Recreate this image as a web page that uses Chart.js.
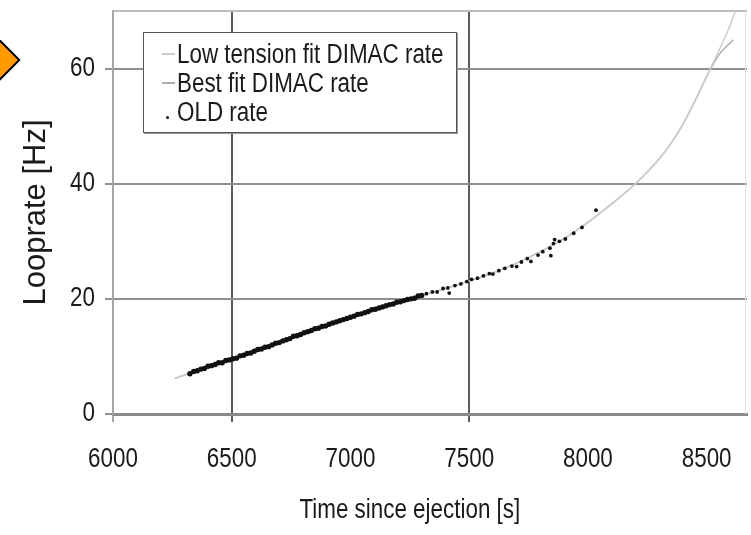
<!DOCTYPE html>
<html>
<head>
<meta charset="utf-8">
<title>Looprate</title>
<script src="https://cdn.jsdelivr.net/npm/chart.js@4.4.1/dist/chart.umd.min.js"></script>
<style>
  body { margin: 0; background: #fff; }
  #wrap { position: relative; width: 751px; height: 535px; overflow: hidden; }
  #marker {
    position: absolute; left: -18px; top: 44px; width: 32px; height: 32px;
    box-sizing: border-box; background: #ff9a00; border: 2px solid #000;
    transform: rotate(45deg);
  }
  #legend {
    position: absolute; left: 143px; top: 32px; width: 314px; height: 101px;
    box-sizing: border-box; background: #fff; border: 1px solid #555;
    box-shadow: 1px 1px 0 #999; padding: 7px 0 0 33px;
    font: 27px "Liberation Sans", Arial, sans-serif;
    line-height: 29px; color: #1a1a1a;
  }
  #legend .row { position: relative; white-space: nowrap; }
  #legend .name { display: inline-block; transform: scaleX(0.83); transform-origin: left center; }
  #legend .line { position: absolute; left: -15px; top: 13px; width: 13px; height: 0; border-top: 2px solid; }
  #legend .dot { position: absolute; left: -11px; top: 18px; width: 3px; height: 3px; border-radius: 50%; background: #111; }
</style>
</head>
<body>
<div id="wrap">
  <canvas id="chart" width="751" height="535"></canvas>
  <div id="marker"></div>
  <div id="legend"></div>
</div>
<script>
// axis ticks
const timeTicks = [6000, 6500, 7000, 7500, 8000, 8500];
const rateTicks = [0, 20, 40, 60];
const gridTimes = [6500, 7500];

const seriesNames = ["Low tension fit DIMAC rate", "Best fit DIMAC rate", "OLD rate"];
const xTitle = "Time since ejection [s]";
const yTitle = "Looprate [Hz]";

// fitted loop rate curves
const lowTensionTime = [6260, 6400, 6500, 6600, 6700, 6800, 6900, 7000, 7100, 7200, 7300, 7400, 7500,
  7600, 7700, 7800, 7900, 8000, 8100, 8200, 8300, 8350, 8400, 8450, 8500, 8550, 8590, 8622];
const lowTensionRate = [6.2, 8.2, 9.5, 11.0, 12.5, 14.0, 15.4, 16.8, 18.1, 19.4, 20.6, 21.8, 23.1,
  24.5, 26.2, 28.2, 30.5, 33.3, 36.5, 40.0, 44.3, 47.0, 50.3, 54.3, 58.6, 63.0, 66.6, 70.0];

const bestFitTime = [6260, 6400, 6500, 6600, 6700, 6800, 6900, 7000, 7100, 7200, 7300, 7400, 7500,
  7600, 7700, 7800, 7900, 8000, 8100, 8200, 8300, 8350, 8400, 8450, 8500, 8550, 8613];
const bestFitRate = [6.2, 8.2, 9.5, 11.0, 12.5, 14.0, 15.4, 16.8, 18.1, 19.4, 20.6, 21.8, 23.1,
  24.5, 26.2, 28.2, 30.5, 33.3, 36.5, 40.0, 44.3, 47.0, 50.3, 54.3, 58.6, 62.3, 65.0];

// measured (old) loop rate
const oldTime = [6324, 6340, 6355, 6370, 6385, 6400, 6415, 6430, 6445, 6460, 6475, 6490, 6505, 6520,
  6535, 6550, 6565, 6580, 6595, 6610, 6625, 6640, 6655, 6670, 6685, 6700, 6715, 6730, 6745, 6760,
  6775, 6790, 6805, 6820, 6835, 6850, 6865, 6880, 6895, 6910, 6925, 6940, 6955, 6970, 6985, 7000,
  7015, 7030, 7045, 7060, 7075, 7090, 7105, 7120, 7135, 7150, 7165, 7180, 7195, 7210, 7225, 7240,
  7255, 7270, 7285, 7300, 7320, 7345, 7365, 7390, 7410, 7416, 7440, 7465, 7490, 7510, 7535, 7560,
  7585, 7600, 7625, 7650, 7680, 7700, 7720, 7745, 7760, 7790, 7810, 7840, 7844, 7855, 7860, 7880,
  7905, 7940, 7975, 8034];
const oldRate = [7.0, 7.4, 7.5, 7.8, 7.9, 8.3, 8.4, 8.6, 8.9, 8.9, 9.3, 9.4, 9.6, 9.7,
  10.1, 10.2, 10.5, 10.6, 10.9, 11.2, 11.3, 11.6, 11.7, 12.0, 12.3, 12.4, 12.7, 12.9, 13.1, 13.5,
  13.6, 13.8, 14.1, 14.3, 14.5, 14.8, 14.9, 15.2, 15.3, 15.6, 15.8, 16.0, 16.2, 16.4, 16.6, 16.8,
  17.0, 17.3, 17.4, 17.6, 17.8, 18.1, 18.2, 18.4, 18.6, 18.8, 19.0, 19.1, 19.4, 19.5, 19.7, 19.9,
  20.0, 20.1, 20.5, 20.6, 20.9, 21.2, 21.2, 21.8, 21.9, 21.0, 22.3, 22.6, 23.0, 23.4, 23.6, 24.0,
  24.4, 24.3, 24.9, 25.3, 25.7, 25.6, 26.4, 27.0, 26.5, 27.6, 28.2, 28.8, 27.5, 29.6, 30.3, 30.0,
  30.4, 31.4, 32.4, 35.4];

const lineColors = ["#cdcdcd", "#acacac"];
const labelFont = '27px "Liberation Sans", Arial, sans-serif';
const labelColor = "#1a1a1a";
const narrow = 0.83; // condensed lettering

const toPoints = (xs, ys) => xs.map((x, i) => ({ x: x, y: ys[i] }));

function drawNarrow(ctx, text, x, y, align) {
  ctx.save();
  ctx.translate(x, y);
  ctx.scale(narrow, 1);
  ctx.textAlign = align;
  ctx.fillText(text, 0, 0);
  ctx.restore();
}

// top and right edges of the plot area
const framePlugin = {
  id: "frame",
  beforeDatasetsDraw(chart) {
    const { ctx, chartArea: a } = chart;
    ctx.save();
    ctx.lineWidth = 2;
    ctx.strokeStyle = "#bdbdbd";
    ctx.beginPath();
    ctx.moveTo(a.left, a.top);
    ctx.lineTo(a.right, a.top);
    ctx.stroke();
    ctx.lineWidth = 1;
    ctx.strokeStyle = "#e2e2e2";
    ctx.beginPath();
    ctx.moveTo(a.right - 1.5, a.top);
    ctx.lineTo(a.right - 1.5, a.bottom);
    ctx.stroke();
    ctx.restore();
  },
};

// condensed tick labels and x title (title centred under the labelled range)
const labelsPlugin = {
  id: "narrowLabels",
  afterDraw(chart) {
    const { ctx } = chart;
    const sx = chart.scales.x;
    const sy = chart.scales.y;
    ctx.save();
    ctx.font = labelFont;
    ctx.fillStyle = labelColor;
    ctx.textBaseline = "middle";
    timeTicks.forEach((v) => drawNarrow(ctx, String(v), sx.getPixelForValue(v), sx.top + 46, "center"));
    rateTicks.forEach((v) => drawNarrow(ctx, String(v), sy.right - 18, sy.getPixelForValue(v), "right"));
    const mid = (sx.getPixelForValue(timeTicks[0]) + sx.getPixelForValue(timeTicks[timeTicks.length - 1])) / 2;
    drawNarrow(ctx, xTitle, mid, sx.bottom - 24, "center");
    ctx.restore();
  },
};

new Chart(document.getElementById("chart"), {
  type: "scatter",
  data: {
    datasets: [
      {
        label: seriesNames[0],
        data: toPoints(lowTensionTime, lowTensionRate),
        showLine: true,
        borderColor: lineColors[0],
        borderWidth: 1.5,
        pointRadius: 0,
        cubicInterpolationMode: "monotone",
        order: 1,
      },
      {
        label: seriesNames[1],
        data: toPoints(bestFitTime, bestFitRate),
        showLine: true,
        borderColor: lineColors[1],
        borderWidth: 1.5,
        pointRadius: 0,
        cubicInterpolationMode: "monotone",
        order: 2,
      },
      {
        label: seriesNames[2],
        data: toPoints(oldTime, oldRate),
        showLine: false,
        // dense run of samples up to ~7300 s, sparser and finer afterwards
        pointRadius: (c) => (c.raw && c.raw.x > 7300 ? 1.9 : 2.7),
        borderWidth: 0,
        backgroundColor: "#111",
        order: 0,
      },
    ],
  },
  options: {
    responsive: false,
    animation: false,
    layout: { padding: { top: 11, right: 2, bottom: 0, left: 0 } },
    plugins: {
      legend: { display: false },
      tooltip: { enabled: false },
    },
    scales: {
      x: {
        type: "linear",
        min: 6000,
        max: 8670,
        afterBuildTicks: (s) => { s.ticks = timeTicks.map((v) => ({ value: v })); },
        afterFit: (s) => { s.height = 121; s.paddingLeft = 0; s.paddingRight = 0; },
        ticks: { display: false },
        grid: {
          lineWidth: 2,
          tickLength: 8,
          color: (c) => (gridTimes.includes(c.tick && c.tick.value) ? "#5c5c5c" : "rgba(0,0,0,0)"),
          tickColor: (c) => (gridTimes.includes(c.tick && c.tick.value) ? "#5c5c5c" : c.tick && c.tick.value === timeTicks[0] ? "#a5a5a5" : "rgba(0,0,0,0)"),
        },
        border: { color: "#8a8a8a", width: 3 },
      },
      y: {
        min: 0,
        max: 70,
        afterBuildTicks: (s) => { s.ticks = rateTicks.map((v) => ({ value: v })); },
        afterFit: (s) => { s.width = 113; s.paddingTop = 0; s.paddingBottom = 0; },
        ticks: { display: false },
        title: {
          display: true,
          text: yTitle,
          color: labelColor,
          font: { family: '"Liberation Sans", Arial, sans-serif', size: 31 },
          padding: { top: 18, bottom: 0 },
        },
        grid: {
          lineWidth: 2,
          tickLength: 8,
          color: (c) => (c.tick && c.tick.value === 0 ? "rgba(0,0,0,0)" : "#8f8f8f"),
          tickColor: "#8f8f8f",
        },
        border: { color: "#a5a5a5", width: 2 },
      },
    },
  },
  plugins: [framePlugin, labelsPlugin],
});

// legend box inside the plot
const legend = document.getElementById("legend");
seriesNames.forEach((name, i) => {
  const row = document.createElement("div");
  row.className = "row";
  const key = document.createElement("span");
  if (i < lineColors.length) {
    key.className = "line";
    key.style.borderColor = lineColors[i];
  } else {
    key.className = "dot";
  }
  const text = document.createElement("span");
  text.className = "name";
  text.textContent = name;
  row.appendChild(key);
  row.appendChild(text);
  legend.appendChild(row);
});
</script>
</body>
</html>
